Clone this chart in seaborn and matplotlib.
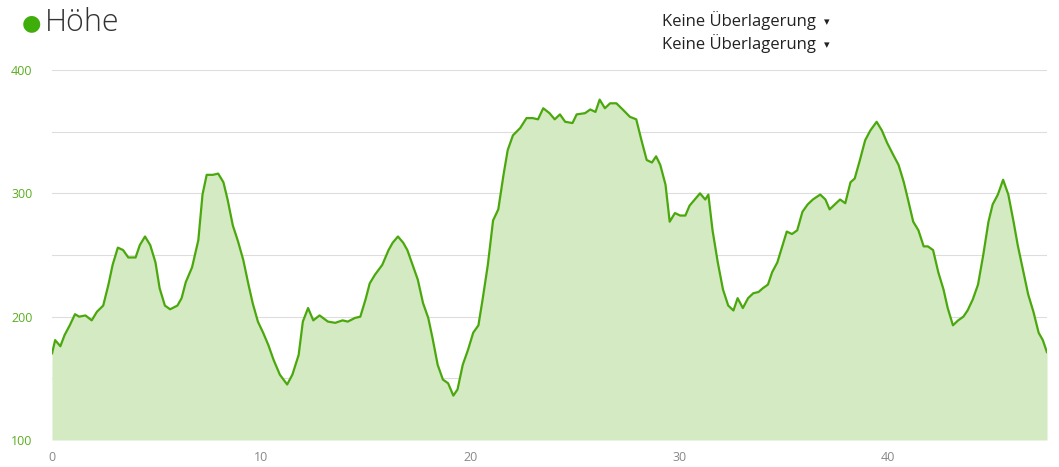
import numpy as np
import pandas as pd
import seaborn as sns
import matplotlib.pyplot as plt

km = [0, 0.15, 0.4, 0.6, 0.85, 1.1, 1.3, 1.6, 1.9, 2.15, 2.45, 2.7, 2.9, 3.15, 3.4, 3.65, 4.0, 4.2, 4.45, 4.7,
      4.95, 5.15, 5.4, 5.65, 6.0, 6.2, 6.4, 6.7, 7.0, 7.2, 7.4, 7.7, 7.95, 8.2, 8.4, 8.65, 8.9, 9.15, 9.4, 9.6,
      9.85, 10.1, 10.35, 10.6, 10.9, 11.25, 11.5, 11.8, 12.0, 12.25, 12.5, 12.8, 13.2, 13.55, 13.9, 14.15, 14.5, 14.75, 15.0, 15.2,
      15.45, 15.8, 16.1, 16.3, 16.55, 16.8, 17.0, 17.25, 17.5, 17.75, 18.0, 18.2, 18.45, 18.7, 18.95, 19.2, 19.4, 19.65, 19.9, 20.15,
      20.4, 20.6, 20.85, 21.1, 21.35, 21.6, 21.8, 22.05, 22.4, 22.7, 23.0, 23.25, 23.5, 23.8, 24.05, 24.3, 24.55, 24.9, 25.1, 25.5,
      25.75, 26.0, 26.2, 26.45, 26.7, 27.0, 27.3, 27.65, 27.95, 28.2, 28.45, 28.7, 28.9, 29.1, 29.35, 29.55, 29.8, 30.05, 30.3, 30.5,
      30.75, 31.0, 31.25, 31.4, 31.6, 31.85, 32.1, 32.35, 32.6, 32.8, 33.05, 33.3, 33.55, 33.8, 34.0, 34.25, 34.45, 34.7, 34.95, 35.15,
      35.4, 35.65, 35.9, 36.15, 36.4, 36.75, 37.0, 37.2, 37.45, 37.7, 37.95, 38.2, 38.4, 38.65, 38.9, 39.15, 39.45, 39.7, 39.95, 40.25,
      40.5, 40.75, 40.95, 41.2, 41.45, 41.7, 41.9, 42.15, 42.4, 42.65, 42.85, 43.1, 43.35, 43.6, 43.8, 44.05, 44.3, 44.55, 44.8, 45.0,
      45.25, 45.5, 45.75, 46.0, 46.2, 46.45, 46.7, 46.95, 47.2, 47.4, 47.6]
hoehe = [170, 181, 176, 185, 193, 202, 200, 201, 197, 204, 209, 226, 242, 256, 254, 248, 248, 258, 265, 258,
         244, 223, 209, 206, 209, 215, 228, 240, 262, 299, 315, 315, 316, 309, 295, 274, 261, 246, 226, 211,
         196, 187, 177, 165, 153, 145, 153, 169, 196, 207, 197, 201, 196, 195, 197, 196, 199, 200, 214, 227,
         234, 242, 254, 260, 265, 260, 254, 242, 230, 211, 199, 183, 161, 149, 146, 136, 141, 161, 173, 187,
         193, 214, 242, 278, 287, 315, 335, 347, 353, 361, 361, 360, 369, 365, 360, 364, 358, 357, 364, 365,
         368, 366, 376, 369, 373, 373, 368, 362, 360, 343, 327, 325, 330, 323, 307, 277, 284, 282, 282, 290,
         295, 300, 295, 299, 270, 244, 222, 209, 205, 215, 207, 215, 219, 220, 223, 226, 236, 244, 258, 269,
         267, 270, 285, 291, 295, 299, 295, 287, 291, 295, 292, 309, 312, 327, 343, 351, 358, 351, 341, 331,
         323, 309, 295, 277, 270, 257, 257, 254, 236, 222, 207, 193, 197, 200, 205, 214, 226, 250, 277, 291,
         299, 311, 299, 277, 258, 238, 218, 204, 187, 181, 171]
y_ticks = [100, 200, 300, 400]
x_ticks = [0, 10, 20, 30, 40]

df = pd.DataFrame({"km": km, "hoehe": hoehe})

sns.set_style("white")
plt.rcParams['font.family'] = ['Open Sans', 'DejaVu Sans']

fig = plt.figure(figsize=(10.59, 4.67), dpi=100)
ax = fig.add_axes([52 / 1059, 1 - 440 / 467, 995 / 1059, 370 / 467])

green = "#4aa80c"
ax.fill_between(df["km"], 100, df["hoehe"], color="#d3eac3", lw=0)
sns.lineplot(data=df, x="km", y="hoehe", ax=ax, color=green, lw=1.6)

ax.set_xlim(0, 47.6)
ax.set_ylim(100, 400)
for g in range(150, 401, 50):
    ax.axhline(g, color="#dddddd", lw=0.8, zorder=0)
ax.set_yticks(y_ticks)
ax.set_xticks(x_ticks)
ax.tick_params(axis="y", colors="#5aae1f", labelsize=9, length=0, pad=14)
ax.tick_params(axis="x", colors="#888888", labelsize=9, length=0, pad=8)
ax.set_xlabel("")
ax.set_ylabel("")
for s in ax.spines.values():
    s.set_visible(False)

fig.text(22 / 1059, 1 - 23 / 467, "●", color="#3fae0a", fontsize=16, va="center", family=["DejaVu Sans"])
fig.text(45 / 1059, 1 - 23 / 467, "Höhe", color="#333333", fontsize=22, va="center", fontweight="light")
for yy in (21, 44):
    fig.text(662 / 1059, 1 - yy / 467, "Keine Überlagerung", color="#222222", fontsize=12, va="center")
    fig.text(824 / 1059, 1 - (yy + 1) / 467, "▾", color="#222222", fontsize=8, va="center",
             family=["DejaVu Sans"])

fig.savefig("out.png", dpi=100)
